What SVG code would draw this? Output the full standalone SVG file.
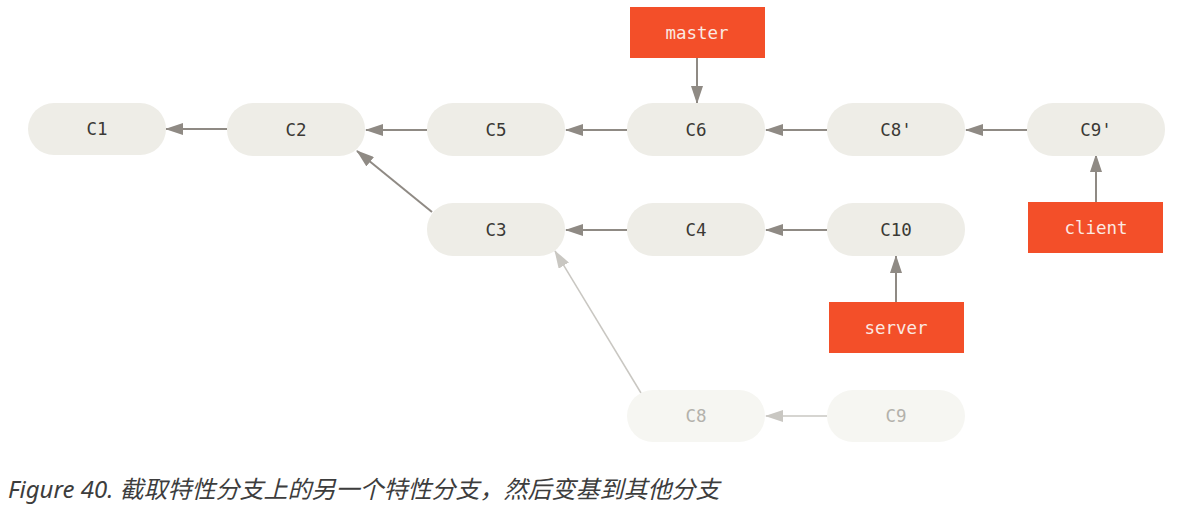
<svg xmlns="http://www.w3.org/2000/svg" width="1182" height="515" viewBox="0 0 1182 515">
<style>
.n rect{fill:#eeede7}
.n text{font-family:"DejaVu Sans Mono","Liberation Mono",monospace;font-size:17.5px;fill:#3b3935;text-anchor:middle;dominant-baseline:central}
.f rect{fill:#f6f6f2}
.f text{font-family:"DejaVu Sans Mono","Liberation Mono",monospace;font-size:17.5px;fill:#b3b1ab;text-anchor:middle;dominant-baseline:central}
.b rect{fill:#f34f29}
.b text{font-family:"DejaVu Sans Mono","Liberation Mono",monospace;font-size:17.5px;fill:#fbe9e2;text-anchor:middle;dominant-baseline:central}
.e{stroke:#8f8a84;stroke-width:2;fill:none;marker-end:url(#a)}
.ef{stroke:#c9c7c2;stroke-width:1.5;fill:none;marker-end:url(#af)}
.cap{font-family:"Noto Sans","Noto Sans CJK SC",sans-serif;font-style:italic;font-size:24px;fill:#3d3d3d}
</style>
<defs>
<marker id="a" viewBox="0 0 18 12" refX="17" refY="6" markerWidth="18" markerHeight="12" markerUnits="userSpaceOnUse" orient="auto"><path d="M0,0L18,6L0,12z" fill="#8f8a84"/></marker>
<marker id="af" viewBox="0 0 18 12" refX="17" refY="6" markerWidth="18" markerHeight="12" markerUnits="userSpaceOnUse" orient="auto"><path d="M0,0L18,6L0,12z" fill="#c9c7c2"/></marker>
</defs>
<g id="connectors">
<line class="e" x1="227" y1="129" x2="166" y2="129"/>
<line class="e" x1="427" y1="130" x2="366" y2="130"/>
<line class="e" x1="627" y1="130" x2="566" y2="130"/>
<line class="e" x1="827" y1="130" x2="766" y2="130"/>
<line class="e" x1="1027" y1="130" x2="966" y2="130"/>
<line class="e" x1="432" y1="212" x2="357" y2="151"/>
<line class="e" x1="627" y1="230" x2="566" y2="230"/>
<line class="e" x1="827" y1="230" x2="766" y2="230"/>
<line class="ef" x1="827" y1="416" x2="766" y2="416"/>
<line class="ef" x1="641" y1="393" x2="555" y2="251"/>
<line class="e" x1="697" y1="58" x2="697" y2="103"/>
<line class="e" x1="1096" y1="202" x2="1096" y2="155"/>
<line class="e" x1="896" y1="302" x2="896" y2="256"/>
</g>
<g id="C1" class="n"><rect x="28" y="103" width="138" height="52" rx="26"/><text x="97" y="129">C1</text></g>
<g id="C2" class="n"><rect x="227" y="103" width="138" height="53" rx="26"/><text x="296" y="130">C2</text></g>
<g id="C5" class="n"><rect x="427" y="103" width="138" height="53" rx="26"/><text x="496" y="130">C5</text></g>
<g id="C6" class="n"><rect x="627" y="103" width="138" height="53" rx="26"/><text x="696" y="130">C6</text></g>
<g id="C8p" class="n"><rect x="827" y="103" width="138" height="53" rx="26"/><text x="896" y="130">C8'</text></g>
<g id="C9p" class="n"><rect x="1027" y="103" width="138" height="53" rx="26"/><text x="1096" y="130">C9'</text></g>
<g id="C3" class="n"><rect x="427" y="203" width="138" height="53" rx="26"/><text x="496" y="230">C3</text></g>
<g id="C4" class="n"><rect x="627" y="203" width="138" height="53" rx="26"/><text x="696" y="230">C4</text></g>
<g id="C10" class="n"><rect x="827" y="203" width="138" height="53" rx="26"/><text x="896" y="230">C10</text></g>
<g id="C8" class="f"><rect x="627" y="390" width="138" height="52" rx="26"/><text x="696" y="416">C8</text></g>
<g id="C9" class="f"><rect x="827" y="390" width="138" height="52" rx="26"/><text x="896" y="416">C9</text></g>
<g id="master" class="b"><rect x="630" y="7" width="135" height="51"/><text x="697" y="33">master</text></g>
<g id="client" class="b"><rect x="1028" y="202" width="135" height="51"/><text x="1096" y="228">client</text></g>
<g id="server" class="b"><rect x="829" y="302" width="135" height="51"/><text x="896" y="328">server</text></g>
<text class="cap" x="8" y="498">Figure 40. 截取特性分支上的另一个特性分支，然后变基到其他分支</text>
</svg>
